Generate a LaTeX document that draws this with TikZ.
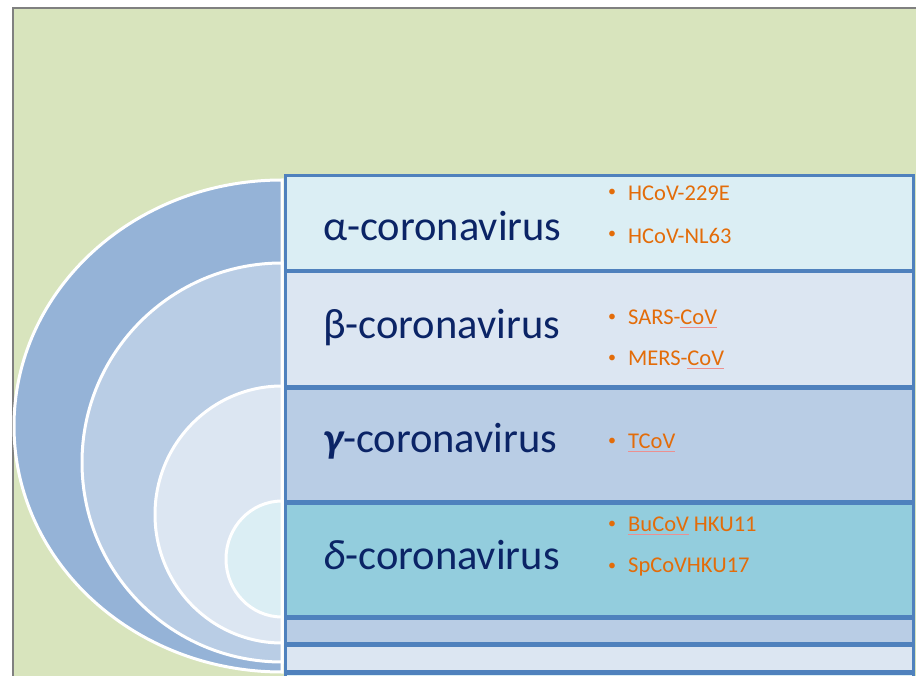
\documentclass[tikz,border=0pt]{standalone}
\usepackage{fontspec}
\setmainfont{Carlito}
\definecolor{bggreen}{HTML}{D8E4BD}
\definecolor{frame}{HTML}{808080}
\definecolor{ringA}{HTML}{95B3D7}
\definecolor{ringB}{HTML}{B9CDE5}
\definecolor{ringC}{HTML}{DCE6F2}
\definecolor{ringD}{HTML}{DBEEF4}
\definecolor{rowA}{HTML}{DBEEF4}
\definecolor{rowB}{HTML}{DCE6F2}
\definecolor{rowC}{HTML}{B9CDE5}
\definecolor{rowD}{HTML}{93CDDD}
\definecolor{rowline}{HTML}{4F81BD}
\definecolor{navy}{HTML}{0B2466}
\definecolor{orangetxt}{HTML}{E36C09}
\definecolor{spell}{HTML}{EC9090}
\newcommand\spl[1]{\setbox0\hbox{#1}\rlap{\color{spell}\rule[-3.5pt]{\wd0}{0.7pt}}\box0\relax}
\tikzset{
  ring/.style={draw=white, line width=3pt},
  rowbox/.style={draw=rowline, line width=3pt},
  cat/.style={anchor=west, text=navy, font=\fontsize{42.5}{48}\selectfont, inner sep=0pt},
  item/.style={anchor=west, text=orangetxt, font=\fontsize{22.5}{26}\selectfont, inner sep=0pt},
  bul/.style={anchor=center, text=orangetxt, font=\fontsize{16}{18}\selectfont, inner sep=0pt}
}
\begin{document}
\begin{tikzpicture}[x=1pt,y=-1pt]
\useasboundingbox (0,0) rectangle (916,676);
\begin{scope}
\clip (0,0) rectangle (916,676);
\fill[white] (0,0) rectangle (916,676);
\draw[draw=frame, line width=2.5pt, fill=bggreen] (13,8) rectangle (940,720);
% half rings
\draw[ring, fill=ringA] (282,180) arc[start angle=-90, end angle=-270, x radius=268, y radius=246] -- cycle;
\draw[ring, fill=ringB] (282,263) arc[start angle=-90, end angle=-270, x radius=200, y radius=199.5] -- cycle;
\draw[ring, fill=ringC] (282,386) arc[start angle=-90, end angle=-270, x radius=127, y radius=128.5] -- cycle;
\draw[ring, fill=ringD] (282,501) arc[start angle=-90, end angle=-270, x radius=56, y radius=58] -- cycle;
% rows
\draw[rowbox, fill=rowA] (285.5,176) rectangle (913.5,270.5);
\draw[rowbox, fill=rowB] (285.5,272) rectangle (913.5,386.5);
\draw[rowbox, fill=rowC] (285.5,388) rectangle (913.5,501.5);
\draw[rowbox, fill=rowD] (285.5,503) rectangle (913.5,616.5);
\draw[rowbox, fill=rowC] (285.5,618) rectangle (913.5,643.5);
\draw[rowbox, fill=rowB] (285.5,645) rectangle (913.5,671.5);
\draw[rowbox, fill=rowA] (285.5,673) rectangle (913.5,710);
% category labels
\node[cat] (alpha) at (323,226.5) {α-coronavirus};
\node[cat] (beta) at (323,327.5) {β-coronavirus};
\node[cat] (gamma) at (323,441.5) {{\bfseries\itshape γ}-coronavirus};
\node[cat] (delta) at (323,555.5) {{\itshape δ}-coronavirus};
% items
\node[bul] (b1) at (612,193) {•};
\node[item] (i1) at (628,193.5) {HCoV-229E};
\node[bul] (b2) at (612,235) {•};
\node[item] (i2) at (628,235.5) {HCoV-NL63};
\node[bul] (b3) at (612,318) {•};
\node[item] (i3) at (628,318.5) {SARS-\spl{CoV}};
\node[bul] (b4) at (612,359) {•};
\node[item] (i4) at (628,359.5) {MERS-\spl{CoV}};
\node[bul] (b5) at (612,442) {•};
\node[item] (i5) at (628,442.5) {\spl{TCoV}};
\node[bul] (b6) at (612,525) {•};
\node[item] (i6) at (628,525.5) {\spl{BuCoV} HKU11};
\node[bul] (b7) at (612,567) {•};
\node[item] (i7) at (628,567.5) {SpCoVHKU17};
\end{scope}
\end{tikzpicture}
\end{document}
